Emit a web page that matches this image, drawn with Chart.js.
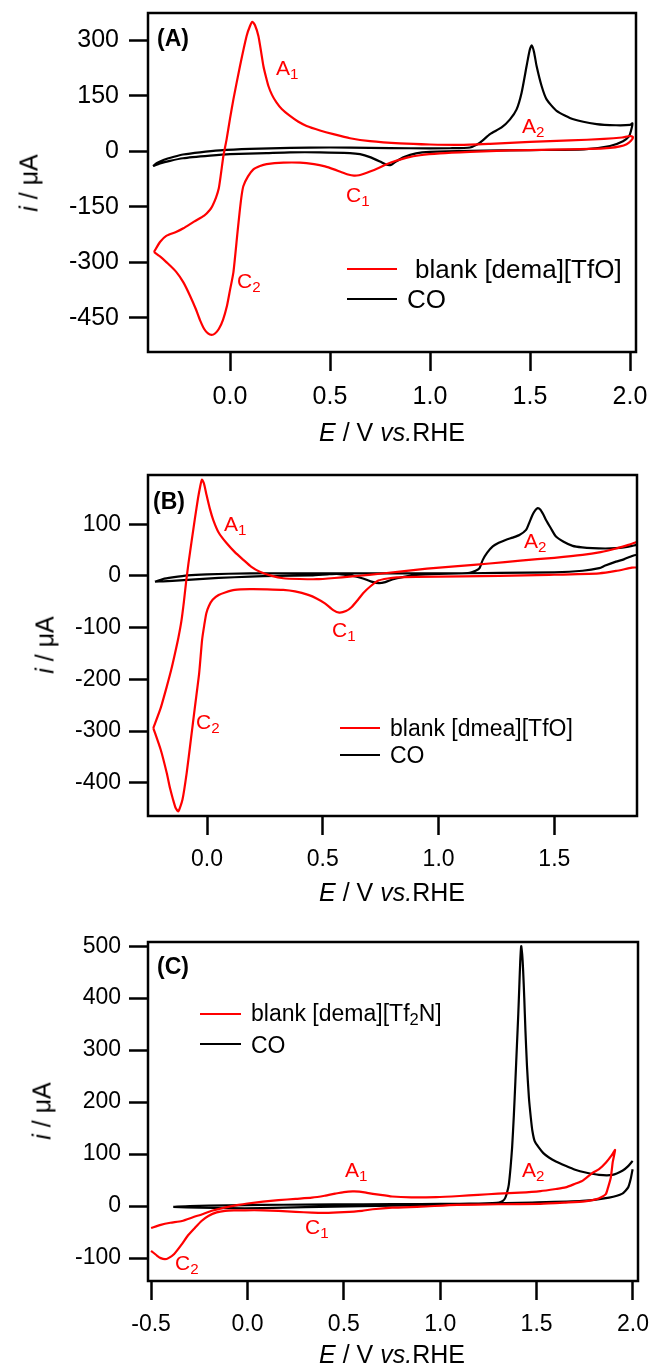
<!DOCTYPE html>
<html>
<head>
<meta charset="utf-8">
<script src="https://cdn.jsdelivr.net/npm/chart.js@4.4.0/dist/chart.umd.min.js"></script>
<style>
  body { margin: 0; background: #fff; }
  #page { position: relative; width: 650px; height: 1367px; overflow: hidden;
          font-family: "Liberation Sans", Arial, sans-serif; color: #000; }
  canvas { position: absolute; left: 0; }
  .t { position: absolute; white-space: nowrap; line-height: 1; }
  .red { color: #ff0000; }
  .s { font-size: 0.72em; position: relative; top: 0.28em; }
  .ln { position: absolute; height: 2.5px; }
  .xt { transform: translateX(-50%); }
  .yt { transform: translate(-50%, -50%) rotate(-90deg); }
</style>
</head>
<body>
<div id="page">
  <canvas id="cA" width="650" height="450" style="top:0px;width:650px;height:450px"></canvas>
  <canvas id="cB" width="650" height="460" style="top:450px;width:650px;height:460px"></canvas>
  <canvas id="cC" width="650" height="457" style="top:910px;width:650px;height:457px"></canvas>
</div>
<script>
// ---- panel A: [dema][TfO] ----
const aBlankE = [-0.38, -0.35, -0.317, -0.27, -0.233, -0.18, -0.129, -0.1, -0.0875, -0.07, -0.056, -0.045, -0.033, -0.017, 0.0, 0.017, 0.05, 0.083, 0.1, 0.112, 0.125, 0.142, 0.155, 0.167, 0.18, 0.192, 0.21, 0.233, 0.26, 0.3, 0.34, 0.383, 0.45, 0.517, 0.6, 0.7, 0.85, 1.0, 1.15, 1.3, 1.5, 1.7, 1.87, 1.96, 2.0, 2.015,
  2.005, 1.983, 1.95, 1.9, 1.8, 1.6, 1.4, 1.2, 1.05, 0.95, 0.88, 0.83, 0.78, 0.74, 0.7, 0.67, 0.645, 0.62, 0.59, 0.558, 0.52, 0.475, 0.42, 0.35, 0.267, 0.183, 0.15, 0.117, 0.09, 0.067, 0.058, 0.048, 0.0375, 0.017, 0.0, -0.015, -0.035, -0.056, -0.075, -0.092, -0.11, -0.129, -0.15, -0.171, -0.2, -0.233, -0.27, -0.317, -0.35, -0.38];
const aBlankI = [-272, -245, -228, -218, -208, -190, -174, -158, -147, -125, -100, -60, -13, 32, 88, 140, 230, 311, 338, 349, 340, 311, 270, 230, 200, 176, 152, 131, 113, 95, 80, 68, 56, 46, 35, 27, 21, 18, 17, 20, 25, 29, 33, 37, 41, 38,
  28, 19, 13, 9, 6, 4, 2, -2, -6, -11, -18, -26, -36, -46, -55, -61, -65, -66, -63, -57, -49, -41, -35, -31, -31, -35, -40, -49, -68, -94, -120, -165, -219, -327, -375, -417, -455, -480, -492, -496, -492, -480, -456, -426, -390, -354, -325, -300, -284, -272];
const aCoE = [-0.385, -0.365, -0.33, -0.28, -0.235, -0.15, -0.05, 0.1, 0.3, 0.5, 0.7, 0.9, 1.1, 1.2, 1.25, 1.3, 1.358, 1.4, 1.433, 1.458, 1.483, 1.498, 1.508, 1.52, 1.533, 1.558, 1.583, 1.633, 1.717, 1.833, 1.93, 2.0, 2.012,
  2.005, 1.995, 1.965, 1.9, 1.77, 1.5, 1.2, 1.0, 0.93, 0.87, 0.83, 0.805, 0.78, 0.75, 0.7, 0.65, 0.6, 0.45, 0.3, 0.183, 0.0, -0.1, -0.235, -0.3, -0.35, -0.385];
const aCoI = [-40, -32, -23, -15, -9, -3, 2, 6, 9, 10, 9, 8, 8, 10, 23, 46, 64, 86, 113, 158, 230, 272, 286, 268, 230, 176, 140, 109, 86, 73, 70, 71, 75,
  55, 40, 27, 14, 5, 3, 1, -2, -6, -16, -28, -37, -36, -28, -16, -8, -5, -3, -3, -5, -8, -12, -19, -26, -33, -40];
const aXTicks = [0, 0.5, 1.0, 1.5, 2.0];
const aYTicks = [-450, -300, -150, 0, 150, 300];

// ---- panel B: [dmea][TfO] ----
const bBlankE = [-0.232, -0.2, -0.174, -0.155, -0.138, -0.124, -0.111, -0.1, -0.09, -0.08, -0.066, -0.052, -0.039, -0.03, -0.022, -0.013, -0.003, 0.012, 0.027, 0.05, 0.085, 0.12, 0.157, 0.19, 0.228, 0.28, 0.329, 0.4, 0.473, 0.55, 0.616, 0.7, 0.832, 0.95, 1.083, 1.22, 1.353, 1.5, 1.622, 1.7, 1.766, 1.82, 1.847, 1.87,
  1.87, 1.835, 1.766, 1.694, 1.478, 1.263, 1.1, 0.904, 0.82, 0.78, 0.74, 0.706, 0.675, 0.652, 0.625, 0.6, 0.571, 0.545, 0.509, 0.475, 0.437, 0.38, 0.329, 0.26, 0.185, 0.12, 0.078, 0.05, 0.024, 0.008, -0.003, -0.012, -0.0215, -0.034, -0.052, -0.07, -0.088, -0.106, -0.124, -0.136, -0.147, -0.16, -0.174, -0.2, -0.232];
const bBlankI = [-294, -255, -214, -182, -149, -120, -88, -50, -10, 25, 69, 112, 150, 172, 186, 178, 158, 130, 108, 84, 63, 46, 31, 18, 8, 0, -4.5, -6, -6.4, -4, -1.3, 2, 8.3, 14, 19, 24, 29.6, 35, 40.5, 46, 53, 60, 64, 67,
  18, 16, 9.6, 5, 2, 0, -1, -2, -3, -5, -9, -20, -33, -46, -60, -68, -71, -66, -53, -44, -36.7, -30, -27, -26, -25.7, -27, -32, -37, -46, -58, -72, -95, -124, -188, -252, -317, -381, -432, -455, -448, -432, -410, -381, -336, -294];
const bCoE = [-0.225, -0.19, -0.15, -0.084, 0.0, 0.185, 0.4, 0.544, 0.7, 0.904, 1.0, 1.083, 1.134, 1.16, 1.177, 1.191, 1.21, 1.234, 1.26, 1.292, 1.32, 1.349, 1.378, 1.392, 1.406, 1.418, 1.428, 1.44, 1.452, 1.464, 1.485, 1.507, 1.54, 1.579, 1.62, 1.665, 1.72, 1.766, 1.8, 1.836, 1.87,
  1.87, 1.836, 1.8, 1.766, 1.72, 1.694, 1.622, 1.5, 1.263, 1.0, 0.904, 0.85, 0.8, 0.77, 0.742, 0.71, 0.67, 0.63, 0.598, 0.56, 0.52, 0.45, 0.3, 0.185, 0.05, -0.084, -0.15, -0.19, -0.225];
const bCoI = [-11, -6, -3, 1, 3, 5, 5, 5, 5, 5, 5, 5, 6, 10, 15, 31, 45, 57, 64, 70, 74, 79, 89, 103, 118, 127, 131, 128, 119, 108, 92, 76, 66, 58, 55, 53.5, 53, 53.5, 55, 58, 60,
  44, 38.6, 32, 27.6, 20, 15, 10, 7, 6, 4, 2, -2, -7, -12, -14, -11, -4.5, 0, 2, 4, 3, 1, 0, -1.3, -4, -7.7, -9.5, -10.5, -11];
const bXTicks = [0, 0.5, 1.0, 1.5];
const bYTicks = [-400, -300, -200, -100, 0, 100];

// ---- panel C: [dema][Tf2N] ----
const cBlankE = [-0.5, -0.45, -0.4, -0.34, -0.28, -0.23, -0.185, -0.12, -0.047, 0.0, 0.08, 0.161, 0.25, 0.334, 0.4, 0.455, 0.5, 0.546, 0.58, 0.62, 0.681, 0.75, 0.85, 0.979, 1.1, 1.196, 1.3, 1.413, 1.52, 1.6, 1.65, 1.7, 1.737, 1.79, 1.824, 1.86, 1.89, 1.907,
  1.895, 1.885, 1.87, 1.859, 1.835, 1.807, 1.75, 1.65, 1.52, 1.3, 1.088, 0.9, 0.75, 0.65, 0.594, 0.5, 0.4, 0.334, 0.25, 0.161, 0.08, -0.012, -0.07, -0.116, -0.16, -0.203, -0.24, -0.272, -0.31, -0.341, -0.38, -0.41, -0.428, -0.45, -0.47, -0.5];
const cBlankI = [-42, -36, -32, -28.5, -21, -15, -9, -3, 2.3, 5, 8.5, 11.4, 14, 16.4, 20, 24, 27, 28.5, 28, 25.5, 22, 18.5, 17, 17.5, 19.5, 21.6, 24, 26, 29, 33, 36, 43, 48.6, 64, 71, 84, 98, 108,
  85, 55, 35, 23, 17, 13, 9, 6.8, 4.5, 3.6, 2.3, -1, -3, -6, -9, -11.5, -13, -12.5, -11, -9, -8, -8, -8.2, -9, -12, -19, -29, -41.5, -57, -73.5, -92, -100, -102, -100, -95, -86];
// the CO scan in (C) is not closed at the positive end: null leaves a gap
const cCoE = [-0.385, -0.3, -0.1, 0.074, 0.3, 0.6, 0.9, 1.1, 1.2, 1.27, 1.305, 1.325, 1.338, 1.348, 1.356, 1.365, 1.373, 1.382, 1.39, 1.398, 1.405, 1.41, 1.415, 1.42, 1.425, 1.43, 1.436, 1.442, 1.45, 1.46, 1.47, 1.478, 1.49, 1.511, 1.535, 1.564, 1.6, 1.65, 1.7, 1.754, 1.824, 1.893, 1.945, 1.975, 1.998,
  1.998, 1.998, 1.988, 1.975, 1.945, 1.876, 1.737, 1.477, 1.2, 0.9, 0.6, 0.3, 0.074, -0.1, -0.25, -0.385];
const cCoI = [-1.5, 0, 1.5, 2.3, 3, 3.5, 4, 4.5, 5, 6, 7, 10, 16.4, 28, 42, 75, 113, 175, 241, 310, 370, 420, 470, 500, 485, 454, 400, 338, 270, 209, 170, 145, 125, 113, 102, 93.6, 86, 77.6, 70, 64.6, 60, 60, 68, 77, 87,
  null, 71, 52, 36, 24, 16.4, 10, 6.8, 4.5, 2, 0, -2, -4, -4, -3, -1.5];
const cXTicks = [-0.5, 0, 0.5, 1.0, 1.5, 2.0];
const cYTicks = [-100, 0, 100, 200, 300, 400, 500];

const RED = '#ff0000';
const FONT = '"Liberation Sans", Arial, sans-serif';
Chart.defaults.font.family = FONT;
Chart.defaults.color = '#000';

const pts = (xs, ys) => xs.map((x, k) => ({ x: x, y: ys[k] }));

// box round the plot area
const frame = {
  id: 'frame',
  afterDatasetsDraw(chart) {
    const { ctx, chartArea: a } = chart;
    ctx.save();
    ctx.strokeStyle = '#000';
    ctx.lineWidth = 2.5;
    ctx.strokeRect(a.left, a.top, a.right - a.left, a.bottom - a.top);
    ctx.restore();
  }
};

function makePanel(id, p) {
  const grid = { display: true, drawOnChartArea: false, drawTicks: true, tickLength: 19, tickWidth: 2.5, tickColor: '#000' };
  const line = (color) => ({ borderColor: color, borderWidth: 2.2, showLine: true, pointRadius: 0, fill: false, tension: 0.2, spanGaps: false });
  return new Chart(document.getElementById(id), {
    type: 'scatter',
    data: {
      datasets: [
        Object.assign({ label: 'blank', data: pts(p.blankE, p.blankI) }, line(RED)),
        Object.assign({ label: 'CO', data: pts(p.coE, p.coI) }, line('#000'))
      ]
    },
    options: {
      responsive: false,
      animation: false,
      events: [],
      layout: { padding: { top: p.top, right: p.right, left: 0, bottom: 0 } },
      plugins: { legend: { display: false }, tooltip: { enabled: false } },
      scales: {
        x: {
          type: 'linear', min: p.xMin, max: p.xMax,
          grid: grid, border: { display: false },
          afterBuildTicks: (s) => { s.ticks = p.xTicks.map(v => ({ value: v })); },
          afterFit: (s) => { s.height = p.xH; s.paddingLeft = 0; s.paddingRight = 0; },
          ticks: { autoSkip: false, maxRotation: 0, padding: 11, font: { size: p.fs }, callback: (v) => v.toFixed(1) }
        },
        y: {
          type: 'linear', min: p.yMin, max: p.yMax,
          grid: grid, border: { display: false },
          afterBuildTicks: (s) => { s.ticks = p.yTicks.map(v => ({ value: v })); },
          afterFit: (s) => { s.width = 148; s.paddingTop = 0; s.paddingBottom = 0; },
          ticks: { autoSkip: false, padding: p.yPad, font: { size: p.fs }, callback: (v) => String(v) }
        }
      }
    },
    plugins: [frame]
  });
}

makePanel('cA', { blankE: aBlankE, blankI: aBlankI, coE: aCoE, coI: aCoI, xTicks: aXTicks, yTicks: aYTicks,
  xMin: -0.41, xMax: 2.03, yMin: -542, yMax: 373, top: 13, right: 14, xH: 98, fs: 25, yPad: 10 });
makePanel('cB', { blankE: bBlankE, blankI: bBlankI, coE: bCoE, coI: bCoI, xTicks: bXTicks, yTicks: bYTicks,
  xMin: -0.255, xMax: 1.857, yMin: -464, yMax: 195, top: 25, right: 13, xH: 94, fs: 23, yPad: 8 });
makePanel('cC', { blankE: cBlankE, blankI: cBlankI, coE: cCoE, coI: cCoI, xTicks: cXTicks, yTicks: cYTicks,
  xMin: -0.516, xMax: 2.026, yMin: -144, yMax: 508, top: 32, right: 12, xH: 86, fs: 23, yPad: 8 });

// ---- text overlays ----
const page = document.getElementById('page');
function put(html, x, base, size, cls, extra) {
  const d = document.createElement('div');
  d.className = 't ' + (cls || '');
  d.style.left = x + 'px';
  d.style.top = (base - 0.847 * size) + 'px';
  d.style.fontSize = size + 'px';
  if (extra) Object.assign(d.style, extra);
  d.innerHTML = html;
  page.appendChild(d);
  return d;
}
function seg(x1, x2, y, color) {
  const d = document.createElement('div');
  d.className = 'ln';
  d.style.left = x1 + 'px';
  d.style.width = (x2 - x1) + 'px';
  d.style.top = (y - 1.25) + 'px';
  d.style.background = color;
  page.appendChild(d);
}
function yTitle(cx, cy) {
  const d = document.createElement('div');
  d.className = 't yt';
  d.style.left = cx + 'px';
  d.style.top = cy + 'px';
  d.style.fontSize = '25px';
  d.innerHTML = '<i>i</i> / μA';
  page.appendChild(d);
}
function xTitle(cx, base) {
  put('<i>E</i> / V <i>vs.</i>RHE', cx, base, 25, 'xt');
}

// panel A
put('(A)', 157, 46, 23, '', { fontWeight: 'bold' });
put('A<span class="s">1</span>', 276, 75, 21, 'red');
put('A<span class="s">2</span>', 522, 133, 21, 'red');
put('C<span class="s">1</span>', 346, 202, 21, 'red');
put('C<span class="s">2</span>', 237, 288, 21, 'red');
seg(347, 397, 269, RED);
seg(347, 397, 299, '#000');
put('blank [dema][TfO]', 415, 278, 26);
put('CO', 407, 308, 26);
xTitle(392, 441);
yTitle(29, 183);

// panel B
put('(B)', 153, 509, 23, '', { fontWeight: 'bold' });
put('A<span class="s">1</span>', 224, 531, 21, 'red');
put('A<span class="s">2</span>', 524, 548, 21, 'red');
put('C<span class="s">1</span>', 332, 637, 21, 'red');
put('C<span class="s">2</span>', 196, 729, 21, 'red');
seg(340, 380, 728, RED);
seg(340, 380, 755, '#000');
put('blank [dmea][TfO]', 390, 736, 23);
put('CO', 390, 763, 23);
xTitle(392, 901);
yTitle(45, 645);

// panel C
put('(C)', 157, 974, 23, '', { fontWeight: 'bold' });
put('A<span class="s">1</span>', 345, 1177, 21, 'red');
put('A<span class="s">2</span>', 522, 1177, 21, 'red');
put('C<span class="s">1</span>', 305, 1234, 21, 'red');
put('C<span class="s">2</span>', 175, 1270, 21, 'red');
seg(200, 241, 1014, RED);
seg(200, 241, 1044, '#000');
put('blank [dema][Tf<span class="s">2</span>N]', 251, 1021, 23);
put('CO', 251, 1053, 23);
xTitle(392, 1363);
yTitle(42, 1111);
</script>
</body>
</html>
